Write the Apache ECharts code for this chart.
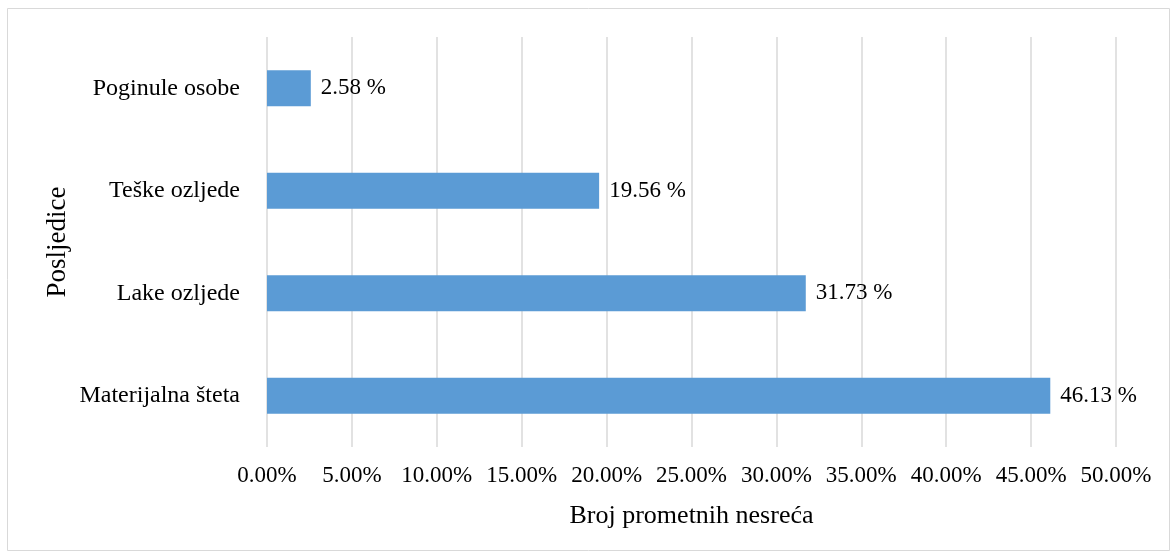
<!DOCTYPE html>
<html><head><meta charset="utf-8">
<script src="https://cdn.jsdelivr.net/npm/echarts@6/dist/echarts.min.js"></script>
<style>html,body{margin:0;padding:0;background:#fff;}#c{width:1174px;height:554px;}</style>
</head><body><div id="c"></div>
<script>
const categories = ['Materijalna šteta', 'Lake ozljede', 'Teške ozljede', 'Poginule osobe'];
const values = [46.13, 31.73, 19.56, 2.58];
const xTicks = [0, 5, 10, 15, 20, 25, 30, 35, 40, 45, 50];
const xTitle = 'Broj prometnih nesreća';
const yTitle = 'Posljedice';

const font = '"Liberation Serif", "Times New Roman", serif';
const chart = echarts.init(document.getElementById('c'), null, {renderer: 'canvas'});
chart.setOption({
  animation: false,
  backgroundColor: '#fff',
  graphic: [{type: 'rect', shape: {x: 7.5, y: 8.5, width: 1162, height: 542}, style: {fill: 'none', stroke: '#d9d9d9', lineWidth: 1}, silent: true}],
  grid: {left: 267, right: 58, top: 37, bottom: 107, containLabel: false},
  xAxis: {
    type: 'value', min: xTicks[0], max: xTicks[xTicks.length - 1], interval: 5,
    name: xTitle, nameLocation: 'middle', nameGap: 56, nameMoveOverlap: false,
    nameTextStyle: {fontFamily: font, fontSize: 26, color: '#000'},
    axisLine: {show: false}, axisTick: {show: false},
    axisLabel: {fontFamily: font, fontSize: 23, color: '#000', margin: 17, formatter: v => v.toFixed(2) + '%'},
    splitLine: {show: true, lineStyle: {color: '#d9d9d9', width: 1.5}}
  },
  yAxis: {
    type: 'category', data: categories,
    name: yTitle, nameLocation: 'middle', nameGap: 196, nameRotate: 90, nameMoveOverlap: false,
    nameTextStyle: {fontFamily: font, fontSize: 27, color: '#000'},
    axisLine: {show: false}, axisTick: {show: false},
    axisLabel: {fontFamily: font, fontSize: 24, color: '#000', margin: 27}
  },
  series: [{
    type: 'bar', data: values, barWidth: 36,
    itemStyle: {color: '#5b9bd5'},
    label: {show: true, position: 'right', distance: 10, fontFamily: font, fontSize: 23, color: '#000', formatter: p => p.value + ' %'}
  }]
});
</script></body></html>
